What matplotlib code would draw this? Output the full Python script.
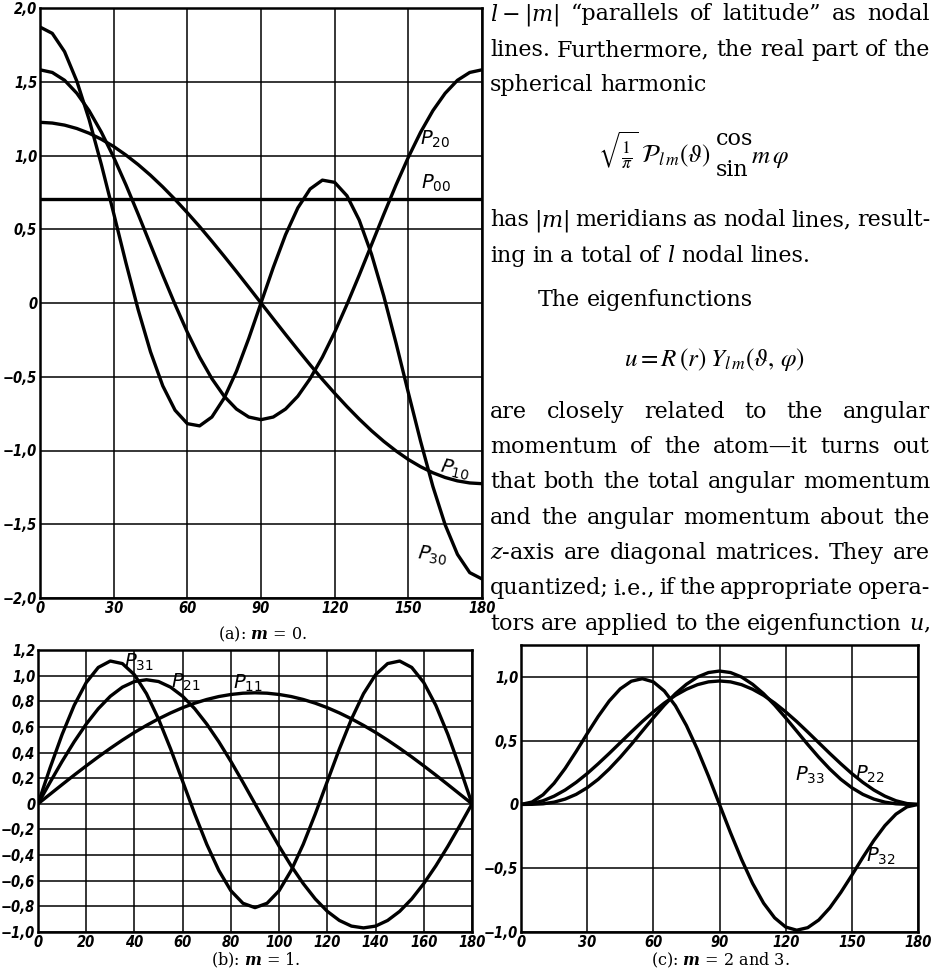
import matplotlib
matplotlib.use("Agg")
import matplotlib.pyplot as plt
from matplotlib import font_manager

W, H = 934, 968

# angle samples (degrees)
theta = list(range(0, 181, 5))

# (a) m = 0
theta_00 = [0, 180]
p00 = [0.707, 0.707]
p10 = [1.225, 1.220, 1.206, 1.183, 1.151, 1.110, 1.061, 1.003, 0.938, 0.866, 0.787, 0.702,
       0.612, 0.518, 0.419, 0.317, 0.213, 0.107, 0.0, -0.107, -0.213, -0.317, -0.419, -0.518,
       -0.612, -0.702, -0.787, -0.866, -0.938, -1.003, -1.061, -1.110, -1.151, -1.183, -1.206,
       -1.220, -1.225]
p20 = [1.581, 1.563, 1.510, 1.422, 1.304, 1.158, 0.988, 0.801, 0.601, 0.395, 0.189, -0.010,
       -0.198, -0.367, -0.513, -0.632, -0.719, -0.773, -0.791, -0.773, -0.719, -0.632, -0.513,
       -0.367, -0.198, -0.010, 0.189, 0.395, 0.601, 0.801, 0.988, 1.158, 1.304, 1.422, 1.510,
       1.563, 1.581]
p30 = [1.871, 1.828, 1.704, 1.504, 1.244, 0.938, 0.608, 0.272, -0.047, -0.331, -0.562, -0.727,
       -0.818, -0.833, -0.773, -0.645, -0.463, -0.241, 0.0, 0.241, 0.463, 0.645, 0.773, 0.833,
       0.818, 0.727, 0.562, 0.331, 0.047, -0.272, -0.608, -0.938, -1.244, -1.504, -1.704,
       -1.828, -1.871]

# (b) m = 1
p11 = [0, 0.075, 0.150, 0.224, 0.296, 0.366, 0.433, 0.497, 0.557, 0.612, 0.663, 0.709, 0.750,
       0.785, 0.814, 0.837, 0.853, 0.863, 0.866, 0.863, 0.853, 0.837, 0.814, 0.785, 0.750,
       0.709, 0.663, 0.612, 0.557, 0.497, 0.433, 0.366, 0.296, 0.224, 0.150, 0.075, 0]
p21 = [0, 0.168, 0.331, 0.484, 0.622, 0.742, 0.839, 0.910, 0.954, 0.968, 0.954, 0.910, 0.839,
       0.742, 0.622, 0.484, 0.331, 0.168, 0, -0.168, -0.331, -0.484, -0.622, -0.742, -0.839,
       -0.910, -0.954, -0.968, -0.954, -0.910, -0.839, -0.742, -0.622, -0.484, -0.331,
       -0.168, 0]
p31 = [0, 0.280, 0.541, 0.768, 0.946, 1.064, 1.114, 1.094, 1.007, 0.859, 0.661, 0.428, 0.175,
       -0.079, -0.316, -0.520, -0.678, -0.776, -0.810, -0.776, -0.678, -0.520, -0.316, -0.079,
       0.175, 0.428, 0.661, 0.859, 1.007, 1.094, 1.114, 1.064, 0.946, 0.768, 0.541, 0.280, 0]

# (c) m = 2 and 3
p22 = [0, 0.007, 0.029, 0.065, 0.113, 0.173, 0.242, 0.319, 0.400, 0.484, 0.568, 0.650, 0.726,
       0.795, 0.855, 0.903, 0.939, 0.961, 0.968, 0.961, 0.939, 0.903, 0.855, 0.795, 0.726,
       0.650, 0.568, 0.484, 0.400, 0.319, 0.242, 0.173, 0.113, 0.065, 0.029, 0.007, 0]
p32 = [0, 0.019, 0.076, 0.166, 0.282, 0.415, 0.555, 0.690, 0.811, 0.906, 0.966, 0.986, 0.961,
       0.889, 0.774, 0.619, 0.431, 0.222, 0, -0.222, -0.431, -0.619, -0.774, -0.889, -0.961,
       -0.986, -0.966, -0.906, -0.811, -0.690, -0.555, -0.415, -0.282, -0.166, -0.076,
       -0.019, 0]
p33 = [0, 0.001, 0.005, 0.018, 0.042, 0.079, 0.131, 0.197, 0.278, 0.370, 0.470, 0.575, 0.679,
       0.779, 0.868, 0.942, 0.999, 1.034, 1.046, 1.034, 0.999, 0.942, 0.868, 0.779, 0.679,
       0.575, 0.470, 0.370, 0.278, 0.197, 0.131, 0.079, 0.042, 0.018, 0.005, 0.001, 0]

# ticks
xt_a = [0, 30, 60, 90, 120, 150, 180]
xl_a = ["0", "30", "60", "90", "120", "150", "180"]
yt_a = [-2.0, -1.5, -1.0, -0.5, 0, 0.5, 1.0, 1.5, 2.0]
yl_a = ["−2,0", "−1,5", "−1,0", "−0,5", "0", "0,5", "1,0", "1,5", "2,0"]
xt_b = [0, 20, 40, 60, 80, 100, 120, 140, 160, 180]
xl_b = ["0", "20", "40", "60", "80", "100", "120", "140", "160", "180"]
yt_b = [-1.0, -0.8, -0.6, -0.4, -0.2, 0, 0.2, 0.4, 0.6, 0.8, 1.0, 1.2]
yl_b = ["−1,0", "−0,8", "−0,6", "−0,4", "−0,2", "0", "0,2", "0,4", "0,6", "0,8", "1,0", "1,2"]
yt_c = [-1.0, -0.5, 0, 0.5, 1.0]
yl_c = ["−1,0", "−0,5", "0", "0,5", "1,0"]

text_lines = [
    (["$l-|m|$", "“parallels", "of", "latitude”", "as", "nodal"], 20, 0, True),
    (["lines.", "Furthermore,", "the", "real", "part", "of", "the"], 56, 0, True),
    (["spherical", "harmonic"], 91, 0, False),
    (["has", "$|m|$", "meridians", "as", "nodal", "lines,", "result-"], 226, 0, True),
    (["ing", "in", "a", "total", "of", "$l$", "nodal", "lines."], 262, 0, False),
    (["The", "eigenfunctions"], 306, 48, False),
    (["are", "closely", "related", "to", "the", "angular"], 418, 0, True),
    (["momentum", "of", "the", "atom—it", "turns", "out"], 453, 0, True),
    (["that", "both", "the", "total", "angular", "momentum"], 488, 0, True),
    (["and", "the", "angular", "momentum", "about", "the"], 524, 0, True),
    (["$z$-axis", "are", "diagonal", "matrices.", "They", "are"], 559, 0, True),
    (["quantized;", "i.e.,", "if", "the", "appropriate", "opera-"], 594, 0, True),
    (["tors", "are", "applied", "to", "the", "eigenfunction", "$u$,"], 630, 0, True),
]

installed = {f.name for f in font_manager.fontManager.ttflist}
if "Liberation Sans Narrow" in installed:
    TICKFONT = dict(fontsize=13, fontstyle="italic", fontweight="bold",
                    family="Liberation Sans Narrow")
else:
    TICKFONT = dict(fontsize=10.5, fontstyle="italic", fontweight="bold",
                    family="DejaVu Sans", fontstretch="condensed")
LABELFONT = dict(fontsize=14, math_fontfamily="dejavusans", ha="center", va="center")
BODY = 16

fig = plt.figure(figsize=(W / 100, H / 100), dpi=100)


def px_axes(left, top, right, bottom):
    return fig.add_axes([left / W, 1 - bottom / H, (right - left) / W, (bottom - top) / H])


def style(ax, xt, xl, yt, yl, ylim):
    ax.set_xlim(0, 180)
    ax.set_ylim(*ylim)
    ax.set_xticks(xt, labels=xl, **TICKFONT)
    ax.set_yticks(yt, labels=yl, **TICKFONT)
    ax.grid(True, color="black", linewidth=1.1)
    ax.tick_params(length=0, pad=2)
    for s in ax.spines.values():
        s.set_linewidth(1.8)


def curve(ax, x, y):
    ax.plot(x, y, color="black", lw=2.4, solid_joinstyle="round", solid_capstyle="round")


def lab(ax, x, y, s, rot=0):
    ax.text(x, y, r"$\mathit{P}_{\mathit{%s}}$" % s, rotation=rot, **LABELFONT)


# panel (a)
ax_a = px_axes(40, 8, 482, 598)
style(ax_a, xt_a, xl_a, yt_a, yl_a, (-2.0, 2.0))
curve(ax_a, theta_00, p00)
for y in (p10, p20, p30):
    curve(ax_a, theta, y)
lab(ax_a, 161, 1.11, "20")
lab(ax_a, 161.5, 0.81, "00")
lab(ax_a, 169, -1.13, "10", rot=-12)
lab(ax_a, 160, -1.71, "30", rot=-8)

# panel (b)
ax_b = px_axes(38, 650, 472, 932)
style(ax_b, xt_b, xl_b, yt_b, yl_b, (-1.0, 1.2))
for y in (p11, p21, p31):
    curve(ax_b, theta, y)
lab(ax_b, 42, 1.10, "31")
lab(ax_b, 61.5, 0.95, "21")
lab(ax_b, 87, 0.94, "11")

# panel (c)
ax_c = px_axes(521, 645, 918, 932)
style(ax_c, xt_a, xl_a, yt_c, yl_c, (-1.0, 1.25))
for y in (p22, p32, p33):
    curve(ax_c, theta, y)
lab(ax_c, 131, 0.23, "33")
lab(ax_c, 158, 0.235, "22")
lab(ax_c, 163, -0.41, "32")

# captions
CAP = dict(fontsize=11.5, family="DejaVu Serif", ha="center", va="baseline",
           math_fontfamily="dejavuserif")
fig.text(262 / W, 1 - 639 / H, r"(a): $\mathbfit{m}$ = 0.", **CAP)
fig.text(256 / W, 1 - 965 / H, r"(b): $\mathbfit{m}$ = 1.", **CAP)
fig.text(720 / W, 1 - 965 / H, r"(c): $\mathbfit{m}$ = 2 and 3.", **CAP)

# body text, justified word by word
renderer = fig.canvas.get_renderer()
X0, X1 = 490, 930
space = 0.30 * BODY * 100 / 72
for words, ybase, indent, just in text_lines:
    items = [fig.text(0, 0, w, fontsize=BODY, family="DejaVu Serif", va="baseline",
                      math_fontfamily="dejavuserif") for w in words]
    widths = [t.get_window_extent(renderer).width for t in items]
    if just and len(words) > 1:
        gap = (X1 - X0 - indent - sum(widths)) / (len(words) - 1)
    else:
        gap = space
    x = X0 + indent
    for t, wd in zip(items, widths):
        t.set_position((x / W, 1 - ybase / H))
        x += wd + gap

# displayed formulas
FS = 18
F = dict(fontsize=FS, va="baseline", math_fontfamily="stix", family="DejaVu Serif")
t1 = fig.text(598 / W, 1 - 163 / H, r"$\sqrt{\frac{1}{\pi}}\;\mathcal{P}_{l\,m}(\vartheta)$", **F)
x_end = 598 + t1.get_window_extent(renderer).width + 5
fig.text(x_end / W, 1 - 145 / H, "cos", fontsize=BODY, family="DejaVu Serif", va="baseline")
t_sin = fig.text(x_end / W, 1 - 176 / H, "sin", fontsize=BODY, family="DejaVu Serif",
                 va="baseline")
x_end2 = x_end + t_sin.get_window_extent(renderer).width + 3
fig.text(x_end2 / W, 1 - 163 / H, r"$m\,\varphi$", **F)

fig.text(714 / W, 1 - 366 / H, r"$u = R\,(r)\;Y_{l\,m}(\vartheta,\,\varphi)$",
         ha="center", **F)

fig.savefig("out.png", dpi=100)
